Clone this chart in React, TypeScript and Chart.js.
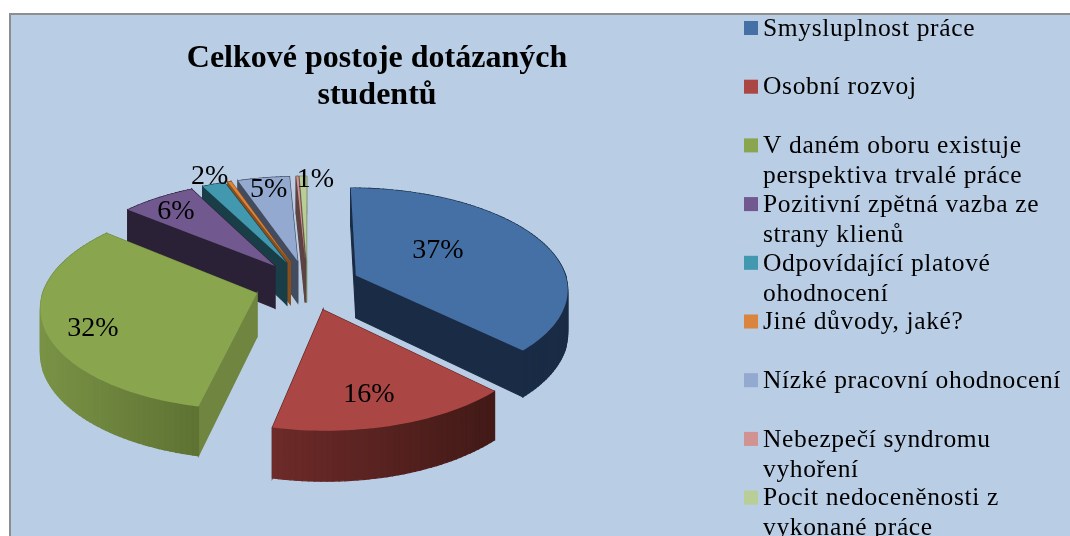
import React, { useEffect, useRef } from "react";
import { Chart, registerables } from "chart.js";

Chart.register(...registerables);

const categories = [
  "Smysluplnost práce",
  "Osobní rozvoj",
  "V daném oboru existuje perspektiva trvalé práce",
  "Pozitivní zpětná vazba ze strany klienů",
  "Odpovídající platové ohodnocení",
  "Jiné důvody, jaké?",
  "Nízké pracovní ohodnocení",
  "Nebezpečí syndromu vyhoření",
  "Pocit nedoceněnosti z vykonané práce",
];
const legendLines = [
  ["Smysluplnost práce"],
  ["Osobní rozvoj"],
  ["V daném oboru existuje", "perspektiva trvalé práce"],
  ["Pozitivní zpětná vazba ze", "strany klienů"],
  ["Odpovídající platové", "ohodnocení"],
  ["Jiné důvody, jaké?"],
  ["Nízké pracovní ohodnocení"],
  ["Nebezpečí syndromu", "vyhoření"],
  ["Pocit nedoceněnosti z", "vykonané práce"],
];
const values = [37.4, 16.0, 32.49, 6.49, 2, 0.3, 4.5, 0.2, 0.6];
const percentLabels = ["37%", "16%", "32%", "6%", "2%", "", "5%", "", "1%"];
const titleLines = ["Celkové postoje dotázaných", "studentů"];

const topColors = ["#4470a5", "#aa4644", "#89a54e", "#71588f", "#4198af", "#db843d", "#93a9cf", "#d19392", "#b9cd96"];
const sideStart = ["#1a2c45", "#6e2b29", "#7a9346", "#2b2136", "#1a3e48", "#7a4a1e", "#434c5f", "#5d4342", "#6f7d58"];
const sideEnd = ["#1a2c45", "#421a17", "#5f7333", "#2b2136", "#1a3e48", "#7a4a1e", "#434c5f", "#5d4342", "#6f7d58"];
const radialColors = ["#1a2c45", "#5a2422", "#6f8540", "#2b2136", "#1a3e48", "#8a4f1c", "#434c5f", "#5d4342", "#6f7d58"];
const labelNudgeX = [82, 46, -164, -99, -77, 0, -29, 0, 9];
const labelNudgeY = [-25, 85, 35, -54, -86, 0, -72, 0, -81];

const EXPLODE = 0.25;
const PERSPECTIVE = 0.12;
const TILT = 0.472;
const DEPTH = 43;
const BG = "#b9cde5";
const FRAME = "#8e8e8e";
const LEGEND_ROW = 58.7;
const LEGEND_TOP = 29;
const LEGEND_LINE = 30;

function hexMix(a: string, b: string, t: number) {
  const p = (h: string, i: number) => parseInt(h.slice(i, i + 2), 16);
  const c = [1, 3, 5].map((i) => Math.round(p(a, i) + (p(b, i) - p(a, i)) * t));
  return `rgb(${c[0]},${c[1]},${c[2]})`;
}

const pie3d = {
  id: "pie3d",
  beforeDraw(chart: any) {
    const { ctx, width, height } = chart;
    ctx.save();
    ctx.fillStyle = "#ffffff";
    ctx.fillRect(0, 0, width, height);
    ctx.fillStyle = FRAME;
    ctx.fillRect(9, 13, width - 9, height - 13);
    ctx.fillStyle = BG;
    ctx.fillRect(11, 15, width - 11, height - 15);
    ctx.restore();
  },
  beforeDatasetDraw(chart: any) {
    const { ctx } = chart;
    const arcs = chart.getDatasetMeta(0).data as any[];
    const project = (el: any, u: number, v: number) => {
      const w = 1 / (1 - PERSPECTIVE * v);
      return { x: el.x + el.outerRadius * u * w, y: el.y + el.outerRadius * TILT * v * w, w };
    };
    const items = arcs.map((el, i) => {
      const mid = (el.startAngle + el.endAngle) / 2;
      const au = EXPLODE * Math.cos(mid);
      const av = EXPLODE * Math.sin(mid);
      const apex = project(el, au, av);
      const steps = Math.max(2, Math.ceil((el.endAngle - el.startAngle) * 40));
      const rim: any[] = [];
      for (let s = 0; s <= steps; s++) {
        const a = el.startAngle + ((el.endAngle - el.startAngle) * s) / steps;
        rim.push(project(el, au + Math.cos(a), av + Math.sin(a)));
      }
      return { i, apex, rim };
    });
    items.sort((a, b) => a.apex.y - b.apex.y);
    ctx.save();
    for (const { i, apex, rim } of items) {
      const quads: { p: any; q: any; color: string }[] = [];
      quads.push({ p: apex, q: rim[0], color: radialColors[i] });
      quads.push({ p: rim[rim.length - 1], q: apex, color: radialColors[i] });
      const minX = Math.min(...rim.map((r: any) => r.x));
      const maxX = Math.max(...rim.map((r: any) => r.x));
      for (let k = 0; k < rim.length - 1; k++) {
        const t = (rim[k].x - minX) / Math.max(1, maxX - minX);
        quads.push({ p: rim[k], q: rim[k + 1], color: hexMix(sideStart[i], sideEnd[i], t) });
      }
      quads.sort((a, b) => a.p.y + a.q.y - b.p.y - b.q.y);
      for (const { p, q, color } of quads) {
        ctx.beginPath();
        ctx.moveTo(p.x, p.y);
        ctx.lineTo(q.x, q.y);
        ctx.lineTo(q.x, q.y + DEPTH * q.w);
        ctx.lineTo(p.x, p.y + DEPTH * p.w);
        ctx.closePath();
        ctx.fillStyle = color;
        ctx.strokeStyle = color;
        ctx.lineWidth = 1.2;
        ctx.fill();
        ctx.stroke();
      }
      ctx.beginPath();
      ctx.moveTo(apex.x, apex.y);
      for (const r of rim) ctx.lineTo(r.x, r.y);
      ctx.closePath();
      ctx.fillStyle = topColors[i];
      ctx.fill();
    }
    ctx.restore();
    return false;
  },
  afterDraw(chart: any) {
    const { ctx } = chart;
    const arcs = chart.getDatasetMeta(0).data as any[];
    ctx.save();
    ctx.fillStyle = "#000000";
    ctx.textAlign = "center";
    ctx.textBaseline = "middle";
    ctx.font = "28px 'Liberation Serif'";
    arcs.forEach((el, i) => {
      if (!percentLabels[i]) return;
      const mid = (el.startAngle + el.endAngle) / 2;
      const u = EXPLODE * Math.cos(mid);
      const v = EXPLODE * Math.sin(mid);
      const w = 1 / (1 - PERSPECTIVE * v);
      const x = el.x + el.outerRadius * u * w;
      const y = el.y + el.outerRadius * TILT * v * w;
      ctx.fillText(percentLabels[i], x + labelNudgeX[i], y + labelNudgeY[i]);
    });
    ctx.font = "bold 32px 'Liberation Serif'";
    titleLines.forEach((t, i) => ctx.fillText(t, 377, 59 + i * 37));
    ctx.textAlign = "left";
    ctx.font = "25.5px 'Liberation Serif'";
    (ctx as any).letterSpacing = "0.65px";
    legendLines.forEach((lines, i) => {
      const y = LEGEND_TOP + i * LEGEND_ROW;
      ctx.fillStyle = topColors[i];
      ctx.fillRect(744, y - 8, 14, 14);
      ctx.fillStyle = "#000000";
      lines.forEach((t, j) => ctx.fillText(t, 763, y + j * LEGEND_LINE));
    });
    ctx.restore();
  },
};

export default function App() {
  const ref = useRef<HTMLCanvasElement>(null);
  useEffect(() => {
    const chart = new Chart(ref.current!, {
      type: "pie",
      data: {
        labels: categories,
        datasets: [{ data: values, backgroundColor: topColors, borderWidth: 0 }],
      },
      options: {
        responsive: false,
        animation: false,
        layout: { padding: { left: 95.5, right: 550.5, top: 73, bottom: 39 } },
        plugins: { legend: { display: false }, tooltip: { enabled: false } },
      },
      plugins: [pie3d],
    } as any);
    return () => chart.destroy();
  }, []);
  return (
    <canvas
      ref={ref}
      width={1070}
      height={536}
      style={{ position: "fixed", left: 0, top: 0, width: 1070, height: 536, filter: "blur(0.6px)" }}
    />
  );
}
